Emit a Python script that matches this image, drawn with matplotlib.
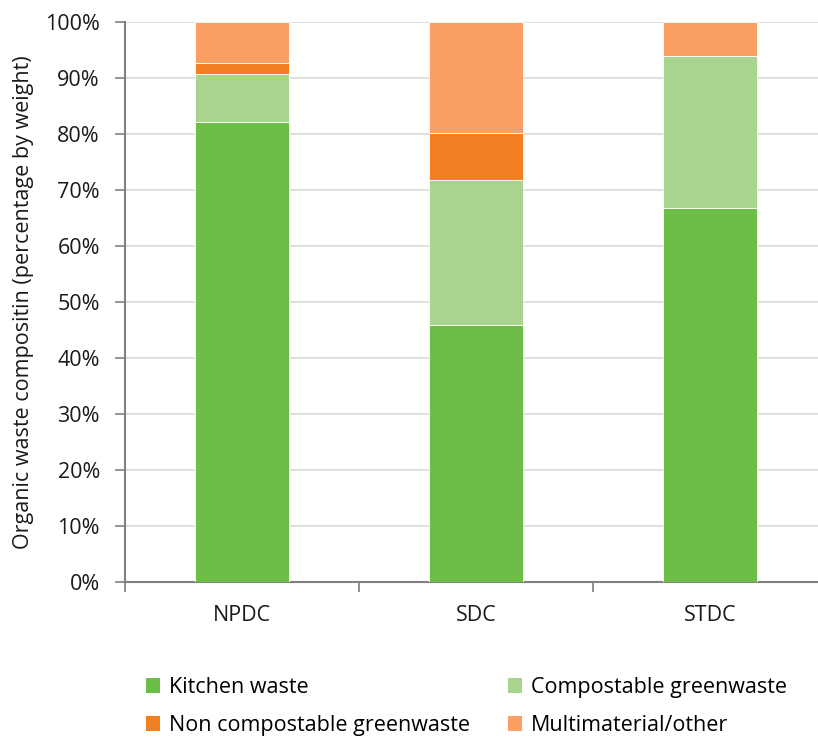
import matplotlib
matplotlib.use("Agg")
import matplotlib.pyplot as plt
from matplotlib.patches import Patch
import numpy as np

plt.rcParams['font.family'] = ['Open Sans', 'DejaVu Sans']

categories = ["NPDC", "SDC", "STDC"]
series_names = ["Kitchen waste", "Compostable greenwaste",
                "Non compostable greenwaste", "Multimaterial/other"]
kitchen = [82.1, 45.8, 66.7]
compostable = [8.55, 25.9, 27.1]
non_compostable = [2.05, 8.4, 0.0]
multimaterial = [7.3, 19.9, 6.2]
colors = ["#6DBE47", "#A9D490", "#F28022", "#F9A062"]

fig = plt.figure(figsize=(8.18, 7.38), dpi=100)
ax = fig.add_axes([0.1528, 0.2118, 0.858, 0.7588])

x = np.arange(len(categories))
bottom = np.zeros(len(categories))
for vals, col, name in zip([kitchen, compostable, non_compostable, multimaterial], colors, series_names):
    ax.bar(x, vals, width=0.40, bottom=bottom, color=col, edgecolor="white",
           linewidth=0.6, label=name, zorder=3)
    bottom += np.array(vals)

ax.set_xlim(-0.5, 2.5)
ax.set_ylim(0, 100)
ax.set_yticks(np.arange(0, 101, 10))
ax.set_yticklabels([f"{v}%" for v in range(0, 101, 10)], fontsize=15.5, color="#1a1a1a")
ax.yaxis.grid(True, color="#d9d9d9", linewidth=1.2, zorder=0)
ax.set_axisbelow(True)

ax.set_xticks(x)
ax.set_xticklabels(categories, fontsize=15.5, color="#1a1a1a")
ax.set_xticks([-0.5, 0.5, 1.5], minor=True)
ax.tick_params(axis='x', which='major', length=0, pad=17)
ax.tick_params(axis='x', which='minor', length=7, color="#808080", width=1.2)
ax.tick_params(axis='y', length=7, color="#808080", width=1.2, pad=11)

for s in ["top", "right"]:
    ax.spines[s].set_visible(False)
for s in ["left", "bottom"]:
    ax.spines[s].set_color("#808080")
    ax.spines[s].set_linewidth(1.5)

ax.set_ylabel("Organic waste compositin (percentage by weight)", fontsize=15.5, color="#1a1a1a")
ax.yaxis.set_label_coords(-0.13, 0.5)

# legend: row-major order like the reference (2 columns)
order = [0, 2, 1, 3]
handles = [Patch(facecolor=colors[i], edgecolor='none') for i in order]
labels = [series_names[i] for i in order]
fig.legend(handles, labels, loc="upper left", ncol=2,
           bbox_to_anchor=(146 / 818, 1 - 677 / 738),
           frameon=False, fontsize=15.5, handlelength=0.65, handleheight=0.65,
           handletextpad=0.4, columnspacing=1.78, labelspacing=0.8,
           borderpad=0, borderaxespad=0)

fig.savefig("out.png", dpi=100)
